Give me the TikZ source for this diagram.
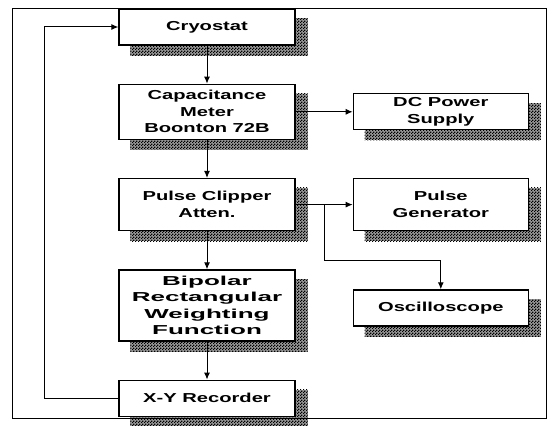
\documentclass[tikz,border=0pt]{standalone}
\usepackage{fontspec}
\usepackage{tikz}
\usetikzlibrary{arrows.meta,positioning,calc,backgrounds,patterns}
\newfontfamily\boxfont{Liberation Sans}[FakeStretch=1.55]
\newfontfamily\wideboxfont{Liberation Sans}[FakeStretch=2.0]
\pgfdeclarepatternformonly{finechecks}{\pgfpointorigin}{\pgfqpoint{3pt}{3pt}}{\pgfqpoint{3pt}{3pt}}{
  \pgfpathrectangle{\pgfpointorigin}{\pgfqpoint{1.55pt}{1.55pt}}
  \pgfpathrectangle{\pgfqpoint{1.5pt}{1.5pt}}{\pgfqpoint{1.55pt}{1.55pt}}
  \pgfusepath{fill}}

\begin{document}
\begin{tikzpicture}[
  unit/.style={draw, fill=white, line width=1.3pt, minimum width=176pt, minimum height=36pt, inner ysep=3pt, align=center, font={\boxfont\bfseries\fontsize{13pt}{16.5pt}\selectfont}},
  wideunit/.style={unit, font={\wideboxfont\bfseries\fontsize{13pt}{16.5pt}\selectfont}},
  shade/.style={preaction={fill=black!40}, pattern=finechecks, pattern color=black},
  arrow/.style={-{Latex[length=7pt,width=6pt]}, line width=1pt},
]
\useasboundingbox (0,0) rectangle (553pt,-425pt);
\draw[line width=0.9pt] (12pt,-8pt) rectangle (546pt,-418pt);

\node[unit] (cryo) at (207pt,-27pt) {Cryostat};
\node[unit, below=38pt of cryo, minimum height=55pt] (cap) {Capacitance\\Meter\\Boonton 72B};
\node[unit, below=38pt of cap, minimum height=52pt] (clip) {Pulse Clipper\\Atten.};
\node[wideunit, below=38pt of clip, minimum height=71pt] (bip) {Bipolar\\Rectangular\\Weighting\\Function};
\node[unit, below=38pt of bip] (xy) {X-Y Recorder};

\node[unit, right=57pt of cap, minimum width=175pt] (dc) {DC Power\\Supply};
\node[unit, right=57pt of clip, minimum width=175pt, minimum height=52pt] (gen) {Pulse\\Generator};
\node[unit, below=58pt of gen, minimum width=175pt] (osc) {Oscilloscope};

\begin{scope}[on background layer]
\foreach \n in {cryo,cap,clip,bip,xy,dc,gen,osc}
  \fill[shade] ([shift={(12pt,-10pt)}]\n.south west) rectangle ([shift={(12pt,-10pt)}]\n.north east);
\end{scope}

\draw[arrow] (cryo) -- (cap);
\draw[arrow] (cap) -- (clip);
\draw[arrow] (clip) -- (bip);
\draw[arrow] (bip) -- (xy);
\draw[arrow] (cap) -- (dc);
\draw[arrow] (clip) -- (gen);

\coordinate (split) at ($(clip.east)!0.5!(gen.west)$);
\coordinate (bend) at ($(gen.south)!0.5!(osc.north)$);
\draw[arrow] (split) |- (bend) -- (osc);

\coordinate[left=74pt of xy.west] (turn);
\draw[arrow] (xy) -- (turn) |- (cryo);

\end{tikzpicture}
\end{document}
